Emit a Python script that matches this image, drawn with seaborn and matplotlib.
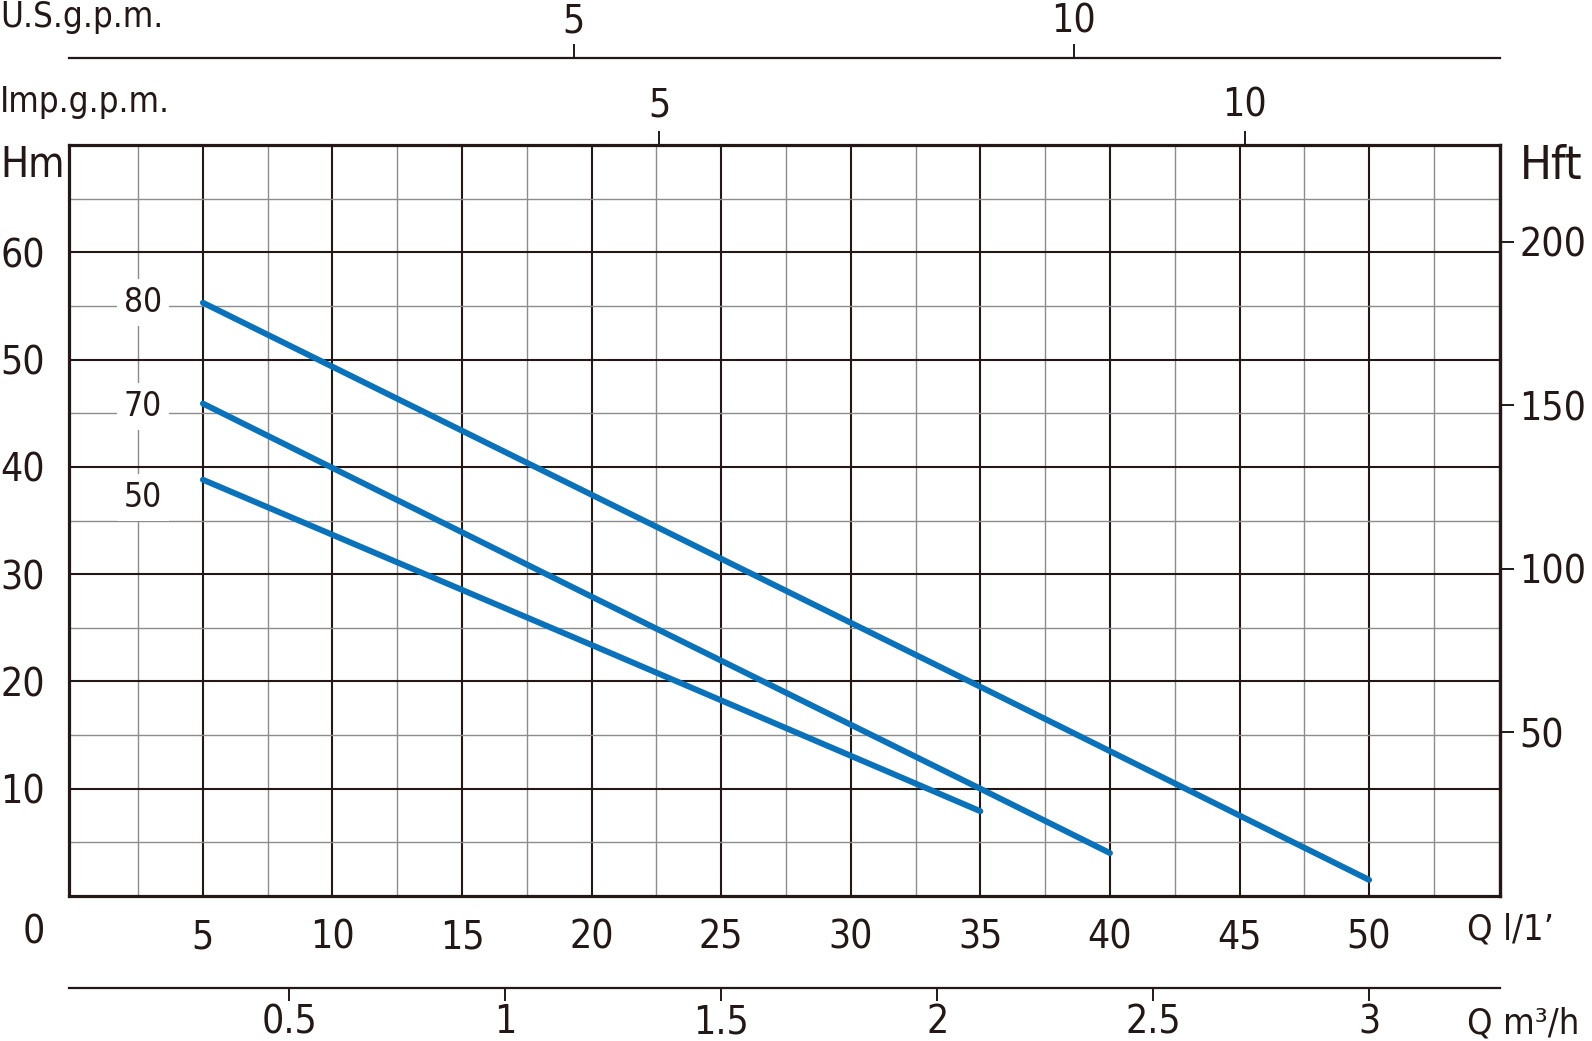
import pandas as pd
import seaborn as sns
import matplotlib.pyplot as plt

# Pump curves: Q in l/min, H in m
q_80 = [5, 20, 35, 50]
h_80 = [55.3, 37.4, 19.5, 1.5]
q_70 = [5, 20, 35, 40]
h_70 = [45.9, 27.9, 10.0, 4.0]
q_50 = [5, 20, 35]
h_50 = [38.8, 23.4, 7.9]
curve_names = ["80", "70", "50"]

# Axis ticks
q_ticks = [5, 10, 15, 20, 25, 30, 35, 40, 45, 50]
hm_ticks = [10, 20, 30, 40, 50, 60]
hft_ticks = [50, 100, 150, 200]
m3h_ticks = [0.5, 1, 1.5, 2, 2.5, 3]
m3h_labels = ["0.5", "1", "1.5", "2", "2.5", "3"]
us_ticks = [5, 10]
imp_ticks = [5, 10]

# unit factors (as scaled on the chart)
L_PER_US = 3.86
L_PER_IMP = 4.52
L_PER_M3H = 50 / 3
FT_PER_M = 3.2808

df = pd.concat([
    pd.DataFrame({"Q": q_80, "H": h_80, "curve": "80"}),
    pd.DataFrame({"Q": q_70, "H": h_70, "curve": "70"}),
    pd.DataFrame({"Q": q_50, "H": h_50, "curve": "50"}),
])

sns.set_style("white")
plt.rcParams["font.family"] = ["DejaVu Sans"]
plt.rcParams["font.stretch"] = "condensed"

ink = "#231815"
blue = "#0a72ba"
tick_fs = 28

fig = plt.figure(figsize=(15.92, 10.41), dpi=100)
ax = fig.add_axes([0.0433, 0.1393, 0.8989, 0.7214])

sns.lineplot(data=df, x="Q", y="H", units="curve", estimator=None, sort=False,
             color=blue, linewidth=4.3, solid_capstyle="round", ax=ax, zorder=3)

ax.set_xlim(-0.17, 55.05)
ax.set_ylim(0, 70)
ax.set_xlabel("")
ax.set_ylabel("")

# grid: thick every 5 l/min / 10 m, thin in between
ax.set_xticks(q_ticks)
ax.set_xticks([2.5 + 5 * i for i in range(11)], minor=True)
ax.set_yticks(hm_ticks)
ax.set_yticks([5 + 10 * i for i in range(7)], minor=True)
ax.grid(which="major", color=ink, linewidth=1.5)
ax.grid(which="minor", color="#8c8c8c", linewidth=1.0)
ax.set_axisbelow(True)

ax.tick_params(which="both", length=0)
ax.tick_params(axis="x", which="major", pad=16, labelsize=tick_fs, colors=ink)
ax.tick_params(axis="y", which="major", pad=17, labelsize=tick_fs, colors=ink)
for s in ax.spines.values():
    s.set_color(ink)
    s.set_linewidth(2.3)

# curve labels
label_y = [55.3, 45.6, 37.1]
for name, yy in zip(curve_names, label_y):
    ax.text(2.68, yy, name, fontsize=24, ha="center", va="center", color=ink,
            bbox=dict(fc="white", ec="none", pad=5), zorder=4)

# right axis: H in feet
ax_ft = ax.secondary_yaxis("right", functions=(lambda m: m * FT_PER_M, lambda f: f / FT_PER_M))
ax_ft.set_yticks(hft_ticks)
ax_ft.tick_params(length=10, width=1.4, pad=4, labelsize=tick_fs, colors=ink)
ax_ft.spines["right"].set_linewidth(2.3)
ax_ft.spines["right"].set_color(ink)

# top: Imp.g.p.m. on the frame
ax_imp = ax.secondary_xaxis("top", functions=(lambda q: q / L_PER_IMP, lambda g: g * L_PER_IMP))
ax_imp.set_xticks(imp_ticks)
ax_imp.tick_params(length=10, width=1.4, pad=5, labelsize=tick_fs, colors=ink)
ax_imp.spines["top"].set_visible(False)

# top: U.S.g.p.m. on its own line
ax_us = ax.secondary_xaxis(1.1165, functions=(lambda q: q / L_PER_US, lambda g: g * L_PER_US))
ax_us.set_xticks(us_ticks)
ax_us.tick_params(length=10, width=1.4, pad=2, labelsize=tick_fs, colors=ink)
ax_us.spines["top"].set_linewidth(1.6)
ax_us.spines["top"].set_color(ink)

# bottom: m3/h on its own line
ax_m3 = ax.secondary_xaxis(-0.1225, functions=(lambda q: q / L_PER_M3H, lambda m: m * L_PER_M3H))
ax_m3.set_xticks(m3h_ticks)
ax_m3.set_xticklabels(m3h_labels)
ax_m3.tick_params(length=9, width=1.4, pad=2, labelsize=tick_fs, colors=ink)
ax_m3.spines["bottom"].set_linewidth(1.6)
ax_m3.spines["bottom"].set_color(ink)

# unit captions
fig.text(0.0, 1 - 17 / 1041, "U.S.g.p.m.", fontsize=25, va="center", ha="left", color=ink)
fig.text(0.0, 1 - 102 / 1041, "Imp.g.p.m.", fontsize=25, va="center", ha="left", color=ink)
fig.text(0.0, 1 - 165 / 1041, "Hm", fontsize=30, va="center", ha="left", color=ink)
fig.text(1 - 72 / 1592, 1 - 166 / 1041, "Hft", fontsize=34, va="center", ha="left", color=ink)
fig.text(34 / 1592, 1 - 933 / 1041, "0", fontsize=tick_fs, va="center", ha="center", color=ink)
fig.text(1467 / 1592, 1 - 929 / 1041, "Q l/1\u2019", fontsize=26, va="center", ha="left", color=ink)
fig.text(1467 / 1592, 1 - 1024 / 1041, "Q m\u00b3/h", fontsize=26, va="center", ha="left", color=ink)

fig.savefig("out.png", dpi=100, facecolor="white")
